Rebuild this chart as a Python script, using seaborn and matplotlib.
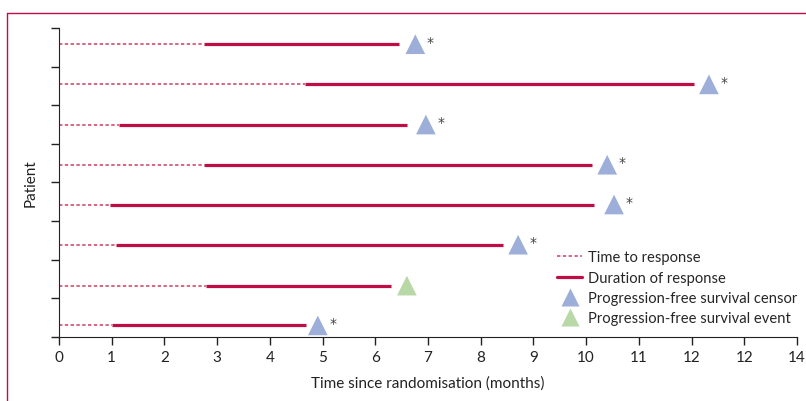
import numpy as np
import pandas as pd
import seaborn as sns
import matplotlib.pyplot as plt
from matplotlib.lines import Line2D

# data (patients listed from top to bottom)
patients = ["P1", "P2", "P3", "P4", "P5", "P6", "P7", "P8"]
row_pos = [7.58, 6.54, 5.5, 4.46, 3.43, 2.39, 1.33, 0.3]
response_time = [2.75, 4.67, 1.14, 2.75, 0.97, 1.08, 2.79, 1.0]
response_end = [6.45, 12.05, 6.6, 10.11, 10.15, 8.42, 6.3, 4.69]
pfs_time = [6.76, 12.33, 6.96, 10.4, 10.53, 8.71, 6.6, 4.91]
pfs_type = ["censor", "censor", "censor", "censor", "censor", "censor", "event", "censor"]
xtick_labels = ["0", "1", "2", "3", "4", "5", "6", "7", "8", "9", "10", "11", "12", "12", "14"]

red = "#c00d45"
dash_red = "#cc3d66"
blue = "#9daed8"
green = "#b8d8a8"

sns.set_style("ticks")
plt.rcParams['font.family'] = ['Lato', 'DejaVu Sans']

df = pd.DataFrame({"patient": patients, "y": row_pos, "resp": response_time,
                   "end": response_end, "pfs": pfs_time, "type": pfs_type})

fig = plt.figure(figsize=(8.06, 4.02), dpi=100)
ax = fig.add_axes([0.0732, 0.1592, 0.9156, 0.7687])

ax.hlines(df["y"], 0, df["resp"], colors=dash_red, linestyles=(0, (2.2, 1.6)), lw=1.1)
ax.hlines(df["y"], df["resp"], df["end"], colors=red, lw=2.3)
sns.scatterplot(data=df, x="pfs", y="y", hue="type", palette={"censor": blue, "event": green},
                marker="^", s=200, edgecolor="none", legend=False, ax=ax, zorder=3)
for _, r in df[df["type"] == "censor"].iterrows():
    ax.text(r["pfs"] + 0.22, r["y"] + 0.06, "*", fontsize=10, color="#444444",
            ha="left", va="center", family="DejaVu Sans")

ax.set_xlim(0, 14)
ax.set_ylim(0, 8)
ax.set_xticks(range(15))
ax.set_xticklabels(xtick_labels, fontsize=11, color="#222222")
ax.set_yticks(range(9))
ax.set_yticklabels([])
ax.tick_params(axis="both", length=6, width=1, color="#222222")
sns.despine(ax=ax)
ax.spines["left"].set_color("#222222")
ax.spines["bottom"].set_color("#222222")
ax.set_xlabel("Time since randomisation (months)", fontsize=11, color="#222222", labelpad=8)
ax.set_ylabel("Patient", fontsize=11, color="#222222", labelpad=6)

handles = [
    Line2D([], [], color=dash_red, lw=1.1, linestyle=(0, (2.2, 1.6))),
    Line2D([], [], color=red, lw=2.3),
    Line2D([], [], color=blue, marker="^", markersize=13, linestyle="none", markeredgecolor="none"),
    Line2D([], [], color=green, marker="^", markersize=13, linestyle="none", markeredgecolor="none"),
]
labels = ["Time to response", "Duration of response",
          "Progression-free survival censor", "Progression-free survival event"]
ax.legend(handles, labels, loc="upper left", bbox_to_anchor=(0.675, 0.28), frameon=False,
          fontsize=10.6, handlelength=1.7, handletextpad=0.4, labelspacing=0.43,
          borderpad=0, borderaxespad=0)

# pink frame on the left and top of the figure
fig.add_artist(Line2D([0.0093, 0.0093], [0.0, 0.965], color=red, lw=1, transform=fig.transFigure))
fig.add_artist(Line2D([0.0093, 1.0], [0.965, 0.965], color=red, lw=1, transform=fig.transFigure))

fig.savefig("out.png", dpi=100)
